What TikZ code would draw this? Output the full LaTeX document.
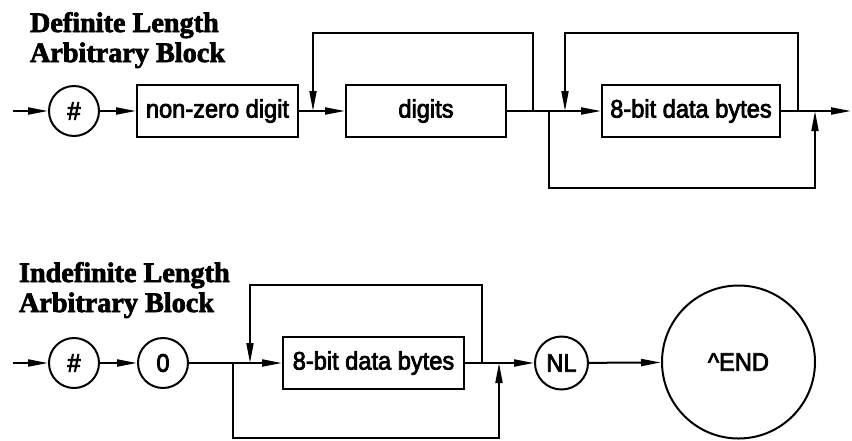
\documentclass[tikz,border=0pt]{standalone}
\usepackage{fontspec}
\setmainfont{Liberation Serif}
\newfontfamily\titlefont{Liberation Serif Bold}[FakeBold=2.5]
\newfontfamily\boxfont{Liberation Sans}[FakeStretch=0.93, FakeBold=3]
\usetikzlibrary{positioning, arrows.meta}

\begin{document}
\begin{tikzpicture}[
		x=0.5pt, y=-0.5pt,
		>={Triangle[length=10pt, width=3.5pt]},
		line width=1pt,
		title/.style={anchor=base west, inner sep=0pt, font=\fontsize{14.1}{16}\titlefont},
		tbox/.style={draw, rectangle, minimum height=26pt, inner sep=2pt, font=\fontsize{12.7}{15}\boxfont},
		tcirc/.style={draw, circle, minimum size=25pt, inner sep=0pt, font=\fontsize{12.7}{15}\boxfont},
		loopline/.style={line width=0.9pt},
	]
	\useasboundingbox (0,0) rectangle (852,440);

	% definite length block
	\node[title] (t1a) at (29,32) {Definite Length};
	\node[title] (t1b) at (29,62) {Arbitrary Block};

	\coordinate (in1) at (13,111);
	\node[tcirc] (hash1) at (74,111) {\#};
	\node[tbox, minimum width=80.5pt] (nzd) at (217.5,111) {non-zero digit};
	\node[tbox, minimum width=80pt] (digits) at (426,111) {digits};
	\node[tbox, minimum width=89pt] (data1) at (691,111) {8-bit data bytes};
	\coordinate (out1) at (851,111);

	\coordinate (l1) at (533,111);
	\coordinate (l2) at (313,111);
	\coordinate (b1) at (549,111);
	\coordinate (l3) at (798,111);
	\coordinate (l4) at (565,111);
	\coordinate (b2) at (815,111);

	\draw[->] (in1) -- (hash1);
	\draw[->] (hash1) -- (nzd);
	\draw[->] (nzd) -- (digits);
	\draw[->] (digits) -- (data1);
	\draw[->] (data1) -- (out1);

	\draw[->, loopline] (l1) -- (l1 |- 0,33) -| (l2);
	\draw[->, loopline] (l3) -- (l3 |- 0,33) -| (l4);
	\draw[->, loopline] (b1) -- (b1 |- 0,188) -| (b2);

	% indefinite length block
	\node[title] (t2a) at (18,282) {Indefinite Length};
	\node[title] (t2b) at (18,312) {Arbitrary Block};

	\coordinate (in2) at (13,363);
	\node[tcirc] (hash2) at (74,363) {\#};
	\node[tcirc] (zero) at (163,363) {0};
	\node[tbox, minimum width=90.5pt] (data2) at (373.5,363) {8-bit data bytes};
	\node[tcirc, minimum size=26.5pt] (nl) at (561.5,363) {NL};
	\node[tcirc, minimum size=76.5pt] (endn) at (738.5,362) {\^{}END};

	\coordinate (b3) at (233,363);
	\coordinate (b4) at (499,363);
	\coordinate (l5) at (482,363);
	\coordinate (l6) at (250,363);

	\draw[->] (in2) -- (hash2);
	\draw[->] (hash2) -- (zero);
	\draw[->] (zero) -- (data2);
	\draw[->] (data2) -- (nl);
	\draw[->] (nl) -- (endn);

	\draw[->, loopline] (l5) -- (l5 |- 0,285) -| (l6);
	\draw[->, loopline] (b3) -- (b3 |- 0,438) -| (b4);
\end{tikzpicture}
\end{document}
